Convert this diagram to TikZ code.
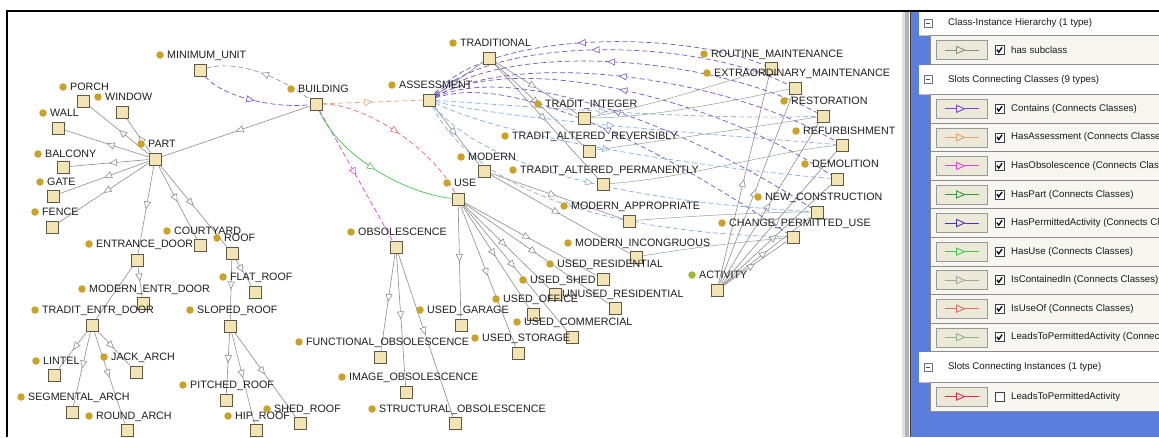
\documentclass[tikz,border=0pt]{standalone}
\usepackage{fontspec}
\setmainfont{Liberation Sans}
\usetikzlibrary{arrows.meta,decorations.markings}
\pgfdeclarelayer{bg}
\pgfsetlayers{bg,main}
\definecolor{dotc}{HTML}{C9A227}
\definecolor{actdot}{HTML}{A9B436}
\definecolor{sqfill}{HTML}{F3E5B3}
\definecolor{sqdraw}{HTML}{5E5845}
\definecolor{subgray}{HTML}{8C8C8C}
\definecolor{cContains}{HTML}{7A44D8}
\definecolor{cAssess}{HTML}{E2A272}
\definecolor{cObs}{HTML}{E044DC}
\definecolor{cPart}{HTML}{2F9A36}
\definecolor{cPerm}{HTML}{4A34A8}
\definecolor{cPermArc}{HTML}{6E56C8}
\definecolor{cUse}{HTML}{46C44E}
\definecolor{cCont}{HTML}{A4A4A4}
\definecolor{cUseOf}{HTML}{E46A6A}
\definecolor{cLeads}{HTML}{92B296}
\definecolor{cInst}{HTML}{E2264E}
\definecolor{cBlue}{HTML}{7FAEE6}
\definecolor{panelblue}{HTML}{5B7EDD}
\definecolor{btnbg}{HTML}{ECE9D8}
\definecolor{rowbg}{HTML}{F7F6F1}
\tikzset{
  clsdot/.style={circle, minimum size=7.5pt, inner sep=0pt},
  clslbl/.style={anchor=west, inner sep=0pt, text height=7.7pt, text depth=0pt,
    font=\fontsize{10.7pt}{12pt}\selectfont, text=black!88},
  clssq/.style={rectangle, draw=sqdraw, fill=sqfill, line width=0.8pt, minimum size=12pt, inner sep=0pt},
  midtri/.style={postaction={decorate, decoration={markings, mark=at position #1 with
    {\arrow{Triangle[length=8pt,width=7pt,fill=white,line width=0.6pt]}}}}},
  midtrirev/.style={postaction={decorate, decoration={markings, mark=at position #1 with
    {\arrowreversed{Triangle[length=8pt,width=7pt,fill=white,line width=0.6pt]}}}}},
  subedge/.style={draw=subgray, line width=0.6pt, midtri=0.5},
  slotdash/.style={line width=0.7pt, dash pattern=on 5pt off 3pt},
  assessedge/.style={slotdash, draw=cAssess, midtri=0.5},
  obsedge/.style={slotdash, draw=cObs, midtri=0.5},
  useedge/.style={line width=0.7pt, draw=cUse, midtri=0.5},
  useofedge/.style={slotdash, draw=cUseOf, midtri=0.5},
  containsedge/.style={slotdash, draw=cContains, midtri=0.5},
  contarc/.style={slotdash, draw=cCont!80!cContains, midtrirev=0.5},
  permarc/.style={slotdash, draw=cPermArc, midtrirev=0.45},
  bluearc/.style={slotdash, draw=cBlue, midtri=0.45},
  leadsarc/.style={line width=0.5pt, draw=cLeads!70!gray},
  legtxt/.style={anchor=west, inner sep=0pt, font=\fontsize{9.7pt}{11pt}\selectfont, text=black!90},
  legbtn/.style={rectangle, fill=btnbg, draw=black!40, minimum width=51pt, minimum height=19pt, inner sep=0pt},
  legchk/.style={rectangle, fill=white, draw=black!75, line width=0.7pt, minimum size=9pt, inner sep=0pt},
  hdricon/.style={rectangle, fill=white, draw=black!55, line width=0.6pt, minimum size=8pt, inner sep=0pt},
  rowbox/.style={fill=rowbg, draw=black!45, line width=0.6pt},
}
\newcommand\mkcls[7][dotc]{%
  \node[clsdot, fill=#1] (#2-d) at (#3,#4) {};
  \node[clslbl] (#2-l) at (#3+7,#4) {#7};
  \node[clssq] (#2) at (#5,#6) {};
}
\newcommand\legrow[5]{%
  \filldraw[rowbox] (930,#2-14.3) rectangle (1165,#2+14.3);
  \node[legbtn] (#1-b) at (961.5,#2) {};
  \draw[#3, line width=0.9pt] ([xshift=-17pt]#1-b.center) -- ([xshift=-5pt]#1-b.center);
  \draw[#3, line width=0.9pt] ([xshift=3pt]#1-b.center) -- ([xshift=17pt]#1-b.center);
  \draw[#3, line width=0.9pt, fill=btnbg] ([xshift=-5pt,yshift=3.6pt]#1-b.center) --
    ([xshift=3pt]#1-b.center) -- ([xshift=-5pt,yshift=-3.6pt]#1-b.center) -- cycle;
  \node[legchk] (#1-c) at (999.5,#2) {};
  \ifnum#5=1
    \draw[line width=1.3pt, black] ([xshift=-2.6pt,yshift=0.4pt]#1-c.center) --
      ([xshift=-0.8pt,yshift=-2.2pt]#1-c.center) -- ([xshift=2.6pt,yshift=2.6pt]#1-c.center);
  \fi
  \node[legtxt] (#1-t) at (1011,#2) {#4};
}
\newcommand\leghead[4]{%
  \fill[white] (919,#2) rectangle (1165,#3);
  \draw[black!25, line width=0.5pt] (919,#3) -- (1165,#3);
  \node[hdricon] (#1-i) at (928,#2/2+#3/2) {};
  \draw[black!70, line width=0.7pt] ([xshift=-2.3pt]#1-i.center) -- ([xshift=2.3pt]#1-i.center);
  \node[legtxt] (#1-t) at (948,#2/2+#3/2) {#4};
}
\begin{document}
\begin{tikzpicture}[x=1pt, y=-1pt]
\useasboundingbox (0,0) rectangle (1159,437);
\begin{pgfonlayer}{bg}
\fill[white] (0,0) rectangle (1159,437);
\end{pgfonlayer}

% ---------- class nodes ----------
\mkcls{minu}{160}{55}{200}{70}{MINIMUM\_UNIT}
\mkcls{porch}{63}{87}{83}{101}{PORCH}
\mkcls{window}{98}{97}{122}{112}{WINDOW}
\mkcls{wall}{43}{113}{58}{128}{WALL}
\mkcls{part}{141}{144}{155}{159}{PART}
\mkcls{balcony}{38}{154}{63}{167}{BALCONY}
\mkcls{gate}{40}{182}{53}{196}{GATE}
\mkcls{fence}{35}{212}{52}{227}{FENCE}
\mkcls{courtyard}{167}{231}{200}{245}{COURTYARD}
\mkcls{roof}{217}{238}{232}{253}{ROOF}
\mkcls{entr}{89}{244}{137}{260}{ENTRANCE\_DOOR}
\mkcls{flat}{223}{277}{255}{292}{FLAT\_ROOF}
\mkcls{modentr}{82}{289}{143}{303}{MODERN\_ENTR\_DOOR}
\mkcls{traditentr}{35}{310}{92}{325}{TRADIT\_ENTR\_DOOR}
\mkcls{sloped}{190}{310}{230}{326}{SLOPED\_ROOF}
\mkcls{lintel}{36}{361}{54}{375}{LINTEL}
\mkcls{jack}{104}{357}{136}{372}{JACK\_ARCH}
\mkcls{pitched}{183}{385}{226}{400}{PITCHED\_ROOF}
\mkcls{segm}{21}{397}{72}{412}{SEGMENTAL\_ARCH}
\mkcls{round}{89}{416}{127}{430}{ROUND\_ARCH}
\mkcls{hip}{228}{416}{256}{430}{HIP\_ROOF}
\mkcls{shed}{267}{409}{300}{423}{SHED\_ROOF}
\mkcls{building}{291}{89}{316}{104}{BUILDING}
\mkcls{assess}{392}{85}{429}{100}{ASSESSMENT}
\mkcls{traditional}{453}{43}{489}{58}{TRADITIONAL}
\mkcls{tinteger}{538}{104}{584}{118}{TRADIT\_INTEGER}
\mkcls{taltrev}{505}{136}{589}{151}{TRADIT\_ALTERED\_REVERSIBLY}
\mkcls{modern}{461}{157}{484}{171}{MODERN}
\mkcls{taltperm}{513}{170}{603}{184}{TRADIT\_ALTERED\_PERMANENTLY}
\mkcls{use}{447}{183}{458}{199}{USE}
\mkcls{modapp}{564}{206}{629}{221}{MODERN\_APPROPRIATE}
\mkcls{modinc}{568}{243}{636}{257}{MODERN\_INCONGRUOUS}
\mkcls{usedres}{550}{264}{603}{279}{USED\_RESIDENTIAL}
\mkcls{unusedres}{555}{294}{615}{308}{UNUSED\_RESIDENTIAL}
\mkcls{usedshed}{523}{280}{555}{294}{USED\_SHED}
\mkcls{usedoffice}{496}{299}{533}{314}{USED\_OFFICE}
\mkcls{usedgarage}{420}{310}{461}{325}{USED\_GARAGE}
\mkcls{usedcomm}{517}{322}{572}{337}{USED\_COMMERCIAL}
\mkcls{usedstorage}{475}{338}{518}{353}{USED\_STORAGE}
\mkcls{obsol}{351}{232}{396}{247}{OBSOLESCENCE}
\mkcls{funcobs}{299}{342}{380}{357}{FUNCTIONAL\_OBSOLESCENCE}
\mkcls{imageobs}{342}{377}{406}{392}{IMAGE\_OBSOLESCENCE}
\mkcls{structobs}{372}{409}{455}{423}{STRUCTURAL\_OBSOLESCENCE}
\mkcls{routine}{704}{54}{771}{68}{ROUTINE\_MAINTENANCE}
\mkcls{extra}{707}{73}{795}{88}{EXTRAORDINARY\_MAINTENANCE}
\mkcls{restor}{784}{101}{823}{116}{RESTORATION}
\mkcls{refurb}{796}{131}{842}{145}{REFURBISHMENT}
\mkcls{demol}{805}{164}{837}{179}{DEMOLITION}
\mkcls{newcons}{758}{197}{817}{212}{NEW\_CONSTRUCTION}
\mkcls{changeuse}{722}{223}{793}{237}{CHANGE\_PERMITTED\_USE}
\mkcls[actdot]{activity}{692}{275}{717}{290}{ACTIVITY}

% ---------- connectors ----------
\begin{pgfonlayer}{bg}
\foreach \ea/\eb in {building/part, part/porch, part/window, part/wall, part/balcony,
  part/gate, part/fence, part/entr, part/courtyard, part/roof, entr/modentr,
  entr/traditentr, traditentr/lintel, traditentr/segm, traditentr/jack,
  traditentr/round, roof/flat, roof/sloped, sloped/pitched, sloped/hip, sloped/shed,
  assess/traditional, assess/modern, traditional/tinteger, traditional/taltrev,
  traditional/taltperm, modern/modapp, modern/modinc, use/usedres, use/usedshed,
  use/unusedres, use/usedoffice, use/usedgarage, use/usedcomm, use/usedstorage,
  obsol/funcobs, obsol/imageobs, obsol/structobs, activity/routine, activity/extra,
  activity/restor, activity/refurb, activity/demol, activity/newcons,
  activity/changeuse}
  \draw[subedge] (\ea) -- (\eb);

% slots from BUILDING
\draw[contarc] (minu) .. controls +(35,-10) and +(-40,-30) .. (building);
\draw[containsedge] (minu) .. controls +(20,25) and +(-45,5) .. (building);
\draw[assessedge] (building) -- (assess);
\draw[obsedge] (building) -- (obsol);
\draw[useedge] (building) .. controls +(25,55) and +(-50,-5) .. (use);
\draw[useofedge] (building) .. controls +(50,0) and +(-25,-50) .. (use);

% permitted activities from ASSESSMENT (upper fan)
\draw[permarc] (assess) .. controls +(60,-70) and +(-90,-38) .. (routine);
\draw[permarc] (assess) .. controls +(70,-65) and +(-100,-50) .. (extra);
\draw[permarc] (assess) .. controls +(80,-60) and +(-110,-60) .. (restor);
\draw[permarc] (assess) .. controls +(90,-50) and +(-120,-70) .. (refurb);
\draw[permarc] (assess) .. controls +(90,-50) and +(-120,-80) .. (demol);
\draw[permarc] (assess) .. controls +(90,-40) and +(-120,-80) .. (newcons);
\draw[permarc] (assess) .. controls +(90,-30) and +(-120,-80) .. (changeuse);

% lower fan from ASSESSMENT
\draw[bluearc] (assess) .. controls +(80,5) and +(-120,5) .. (restor);
\draw[bluearc] (assess) .. controls +(80,20) and +(-120,-10) .. (refurb);
\draw[bluearc] (assess) .. controls +(80,40) and +(-120,-10) .. (demol);
\draw[bluearc] (assess) .. controls +(70,85) and +(-120,-7) .. (newcons);
\draw[bluearc] (assess) .. controls +(60,115) and +(-120,-3) .. (changeuse);

% leads to permitted activity
\draw[leadsarc] (tinteger) .. controls +(60,-10) and +(-50,15) .. (routine);
\draw[leadsarc] (tinteger) .. controls +(70,0) and +(-50,10) .. (extra);
\draw[leadsarc] (taltrev) .. controls +(70,-10) and +(-60,10) .. (restor);
\draw[leadsarc] (taltperm) .. controls +(80,-5) and +(-60,5) .. (refurb);
\draw[leadsarc] (modapp) .. controls +(60,-5) and +(-50,0) .. (newcons);
\draw[leadsarc] (modinc) .. controls +(60,-10) and +(-50,5) .. (changeuse);
\end{pgfonlayer}

% ---------- frame ----------
\draw[black, line width=1.5pt] (7,437) -- (7,11) -- (1159,11);

% ---------- legend panel ----------
\fill[black!12] (902,12) rectangle (905,437);
\fill[black!30] (905,12) rectangle (909,437);
\fill[panelblue] (910,12) rectangle (1159,437);
\draw[black!75, line width=1pt] (910,12) -- (910,437);
\begin{scope}
\clip (911,12) rectangle (1159,437);
\leghead{hA}{11.8}{35}{Class-Instance Hierarchy (1 type)}
\legrow{rS}{50}{subgray}{has subclass}{1}
\leghead{hB}{65}{94.5}{Slots Connecting Classes (9 types)}
\legrow{r1}{108.8}{cContains}{Contains (Connects Classes)}{1}
\legrow{r2}{137.4}{cAssess}{HasAssessment (Connects Classes)}{1}
\legrow{r3}{165.9}{cObs}{HasObsolescence (Connects Classes)}{1}
\legrow{r4}{194.5}{cPart}{HasPart (Connects Classes)}{1}
\legrow{r5}{223.0}{cPerm}{HasPermittedActivity (Connects Classes)}{1}
\legrow{r6}{251.6}{cUse}{HasUse (Connects Classes)}{1}
\legrow{r7}{280.1}{cCont}{IsContainedIn (Connects Classes)}{1}
\legrow{r8}{308.7}{cUseOf}{IsUseOf (Connects Classes)}{1}
\legrow{r9}{337.2}{cLeads}{LeadsToPermittedActivity (Connects Classes)}{1}
\leghead{hC}{352}{382}{Slots Connecting Instances (1 type)}
\legrow{rI}{396.6}{cInst}{LeadsToPermittedActivity}{0}
\end{scope}
\end{tikzpicture}
\end{document}
